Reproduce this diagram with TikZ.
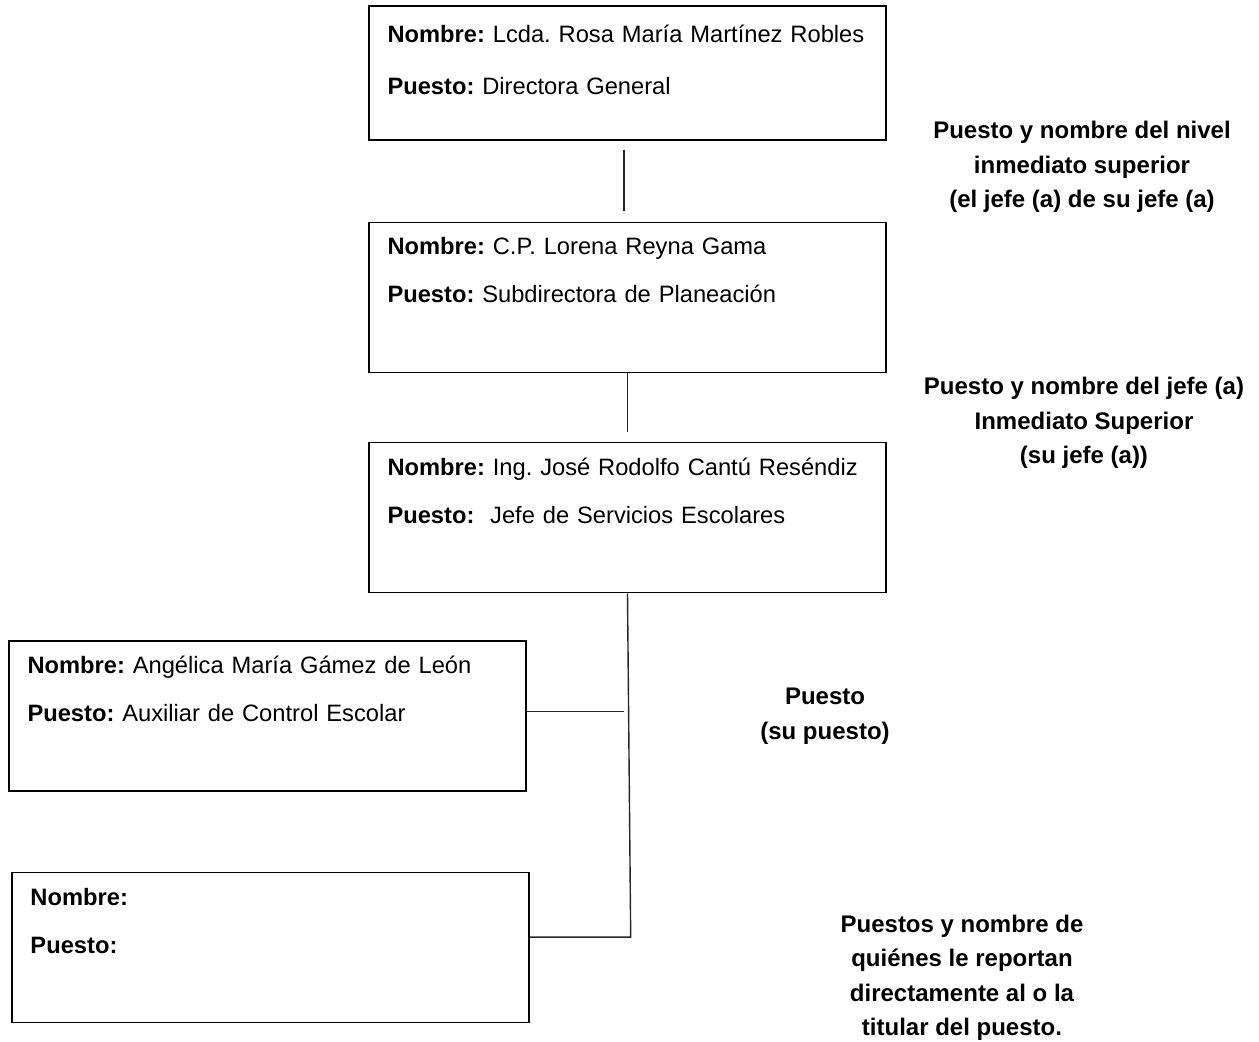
\documentclass[tikz,border=0pt]{standalone}
\usepackage{fontspec}
\setmainfont{Liberation Sans}
\frenchspacing
\usetikzlibrary{positioning, calc}

\begin{document}
\begin{tikzpicture}[
    x=0.5pt, y=-0.5pt,
    cargo/.style={rectangle, draw=black, line width=0.7pt, text width=240pt, inner xsep=9.25pt, align=left, minimum height=75pt, font=\fontsize{11.85}{24}\selectfont},
    titular/.style={cargo, minimum height=67pt, font=\fontsize{11.85}{26}\selectfont},
    nota/.style={align=center, font=\fontsize{12}{17.25}\selectfont\bfseries},
    linea/.style={line width=0.7pt, black!85}
]
\useasboundingbox (0,0) rectangle (1259,1042);

% Column 1: The chain of command
\node[titular] (dir) at (627.5,73) {\textbf{Nombre:} Lcda. Rosa María Martínez Robles\\\textbf{Puesto:} Directora General\\[-13pt]\mbox{}};
\node[cargo, below=40.5pt of dir] (subdir) {\textbf{Nombre:} C.P. Lorena Reyna Gama\\\textbf{Puesto:} Subdirectora de Planeación\\[3pt]\mbox{}};
\node[cargo, below=34.5pt of subdir] (jefe) {\textbf{Nombre:} Ing. José Rodolfo Cantú Reséndiz\\\textbf{Puesto:}\ \ Jefe de Servicios Escolares\\[3pt]\mbox{}};

% Column 2: Who reports to the position
\node[cargo, below=23.5pt of jefe, xshift=-180pt] (aux) {\textbf{Nombre:} Angélica María Gámez de León\\\textbf{Puesto:} Auxiliar de Control Escolar\\[3pt]\mbox{}};
\node[cargo, below=40pt of aux, xshift=1.5pt] (vacante) {\textbf{Nombre:}\\\textbf{Puesto:}\\[3pt]\mbox{}};

% Notes on the right
\node[nota] (nivelsup) at (1082,167) {Puesto y nombre del nivel\\inmediato superior\\(el jefe (a) de su jefe (a)};
\node[nota] (jefeinm) at (1084,423) {Puesto y nombre del jefe (a)\\Inmediato Superior\\(su jefe (a))};
\node[nota] (supuesto) at (825,716) {Puesto\\(su puesto)};
\node[nota] (reportan) at (962,978) {Puestos y nombre de\\quiénes le reportan\\directamente al o la\\titular del puesto.};

% Vertical lines
\draw[linea] ($(dir.south)+(-3.5,9)$) -- ($(subdir.north)+(-3.5,-11)$);
\draw[linea] (subdir.south) -- ($(jefe.north)+(0,-10)$);

% Trunk and branches
\coordinate (codo) at ($(vacante.east)+(101,-10.5)$);
\coordinate (rama) at ($(aux.east)+(97,-4.5)$);
\draw[linea] (jefe.south) -- (codo) -- (vacante.east |- codo);
\draw[linea] (aux.east |- rama) -- (rama);

\end{tikzpicture}
\end{document}
